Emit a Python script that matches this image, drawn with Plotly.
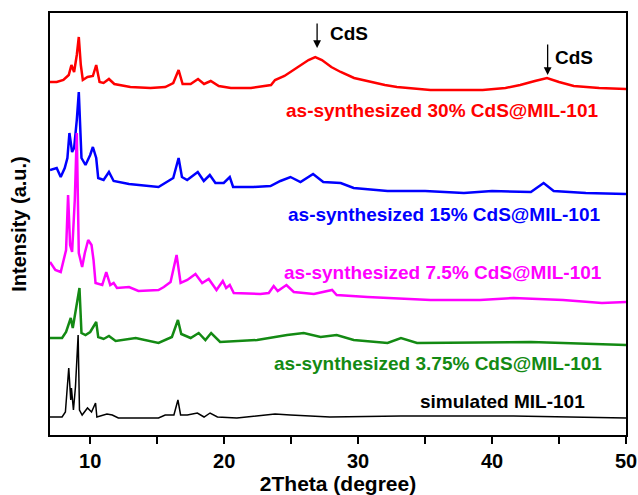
import plotly.graph_objects as go

# 2Theta (degree) and intensity (a.u.) for each pattern
red_x = [7.0, 7.5, 8.0, 8.4, 8.6, 8.8, 9.0, 9.15, 9.3, 9.45, 9.8, 10.2, 10.45, 10.7, 11.0, 11.4, 11.8,
         13.0, 14.5, 15.6, 16.2, 16.6, 16.9, 17.5, 18.05, 18.5, 19.0, 19.6, 20.5, 22.0, 23.5, 23.8,
         24.5, 25.5, 26.3, 26.8, 27.3, 28.0, 28.7, 29.7, 30.9, 32.0, 32.9, 35.4, 37.5, 39.3, 41.0,
         42.1, 43.2, 44.1, 45.0, 46.1, 48.0, 50.0]
red_y = [353, 353, 355, 360, 370, 363, 380, 398, 370, 355, 358, 359, 370, 353, 352, 356, 351,
         348, 347, 348, 352, 365, 351, 351, 356, 351, 354, 349, 347, 347, 350, 355,
         359, 368, 375, 378, 375, 368, 363, 357, 353, 350, 348, 345, 345, 345, 347,
         350, 354, 357, 353, 349, 347, 346]

blue_x = [7.0, 7.5, 7.8, 8.1, 8.3, 8.45, 8.65, 8.8, 9.0, 9.15, 9.35, 9.65, 10.0, 10.2, 10.45, 10.6,
          11.0, 11.4, 11.75, 12.9, 15.1, 16.2, 16.6, 16.85, 17.24, 18.03, 18.48, 18.93, 19.35,
          19.97, 20.42, 20.67, 22.2, 23.46, 24.2, 24.95, 25.7, 26.64, 27.4, 28.7, 29.67, 32.2,
          35.0, 37.9, 40.0, 42.9, 43.85, 44.6, 47.0, 50.0]
blue_y = [265, 267, 258, 267, 277, 302, 283, 287, 315, 343, 277, 270, 280, 288, 277, 257,
          255, 263, 254, 251, 248, 257, 277, 258, 255, 263, 254, 260, 252,
          252, 258, 248, 248, 249, 254, 258, 253, 261, 253, 252, 247, 244,
          244, 242, 244, 243, 252, 244, 242, 241]

magenta_x = [7.0, 7.4, 7.8, 8.0, 8.2, 8.35, 8.5, 8.65, 8.85, 9.0, 9.15, 9.4, 9.6, 9.85, 10.1, 10.25,
             10.4, 10.9, 11.2, 11.5, 11.75, 12.0, 12.9, 13.6, 15.1, 15.5, 16.0, 16.45, 16.75, 17.25,
             17.86, 18.36, 18.85, 19.43, 19.9, 20.15, 20.42, 20.72, 22.7, 23.33, 23.7, 24.0, 24.65,
             25.2, 26.7, 28.06, 28.4, 30.7, 32.2, 35.4, 39.1, 41.6, 45.3, 48.2, 50.0]
magenta_y = [173, 165, 163, 175, 185, 240, 190, 183, 235, 302, 182, 168, 182, 195, 190, 175,
             152, 150, 163, 150, 152, 147, 148, 144, 145, 148, 153, 180, 152, 155,
             161, 152, 156, 145, 154, 147, 150, 142, 141, 142, 149, 144, 150,
             143, 141, 145, 140, 138, 137, 135, 135, 137, 135, 132, 133]

green_x = [7.0, 7.9, 8.2, 8.55, 8.7, 9.0, 9.2, 9.35, 9.65, 10.0, 10.45, 10.6, 11.0, 11.4, 11.9, 13.4,
           15.1, 16.1, 16.55, 16.8, 17.5, 18.1, 18.6, 19.03, 19.7, 22.46, 24.7, 25.94, 27.2, 28.4,
           29.67, 32.2, 33.2, 34.4, 42.9, 45.3, 50.0]
green_y = [97, 97, 103, 117, 107, 130, 147, 102, 100, 103, 113, 98, 96, 99, 94, 97,
           92, 98, 115, 101, 97, 102, 95, 102, 93, 95, 100, 102, 98, 100,
           95, 92, 97, 92, 93, 92, 90]

black_x = [7.0, 7.9, 8.15, 8.4, 8.55, 8.6, 8.75, 8.9, 9.1, 9.2, 9.4, 9.8, 10.1, 10.4, 10.5, 11.25,
           11.65, 12.1, 15.1, 15.6, 16.25, 16.55, 16.75, 17.25, 18.0, 18.5, 18.95, 19.5, 20.95,
           23.8, 24.95, 27.9, 33.2, 41.6, 50.0]
black_y = [18, 18, 23, 67, 35, 47, 25, 48, 100, 25, 20, 27, 23, 32, 18, 21,
           20, 17, 17, 20, 20, 35, 20, 20, 22, 18, 22, 18, 17,
           21, 20, 18, 19, 19, 17]

series = [
    ("as-synthesized 30% CdS@MIL-101", red_x, red_y, "#ff0000", 2.5),
    ("as-synthesized 15% CdS@MIL-101", blue_x, blue_y, "#0000ff", 2.5),
    ("as-synthesized 7.5% CdS@MIL-101", magenta_x, magenta_y, "#ff00ff", 2.5),
    ("as-synthesized 3.75% CdS@MIL-101", green_x, green_y, "#138a13", 2.5),
    ("simulated MIL-101", black_x, black_y, "#000000", 1.5),
]

x_tickvals = [10, 15, 20, 25, 30, 35, 40, 45, 50]
x_ticktext = ["10", "", "20", "", "30", "", "40", "", "50"]

FONT = "Liberation Sans, Arial, sans-serif"

fig = go.Figure()
for name, xs, ys, color, w in series:
    fig.add_trace(go.Scatter(x=xs, y=ys, mode="lines", name=name,
                             line=dict(color=color, width=w)))

# label positions (2Theta, intensity)
label_pos = [(36.33, 325), (36.44, 221), (36.37, 163), (35.96, 72), (40.77, 34)]
annotations = []
for (name, xs, ys, color, w), (lx, ly) in zip(series, label_pos):
    annotations.append(dict(x=lx, y=ly, xref="x", yref="y", text=name, showarrow=False,
                            xanchor="center", yanchor="middle",
                            font=dict(family=FONT, size=19, color=color, weight="bold")))

# CdS markers
for ax_x, tip_y, tail_y, tx, ty in [(26.94, 387, 413, 27.76, 402), (44.15, 360, 392, 44.55, 378)]:
    annotations.append(dict(x=ax_x, y=tip_y, ax=ax_x, ay=tail_y, xref="x", yref="y",
                            axref="x", ayref="y", text="", showarrow=True,
                            arrowhead=2, arrowsize=1.2, arrowwidth=1.3, arrowcolor="black"))
    annotations.append(dict(x=tx, y=ty, xref="x", yref="y", text="CdS", showarrow=False,
                            xanchor="left", yanchor="middle",
                            font=dict(family=FONT, size=19, color="black", weight="bold")))

fig.update_layout(
    width=638, height=495,
    margin=dict(l=50, r=12, t=13, b=60),
    paper_bgcolor="white", plot_bgcolor="white",
    showlegend=False,
    annotations=annotations,
    font=dict(family=FONT, color="black"),
    xaxis=dict(range=[7, 50], tickvals=x_tickvals, ticktext=x_ticktext, automargin=False,
               ticks="outside", ticklen=7, tickwidth=2, tickcolor="black",
               showline=True, linecolor="black", linewidth=2, mirror=True,
               showgrid=False, zeroline=False,
               tickfont=dict(family=FONT, size=20, color="black", weight="bold"),
               title=dict(text="2Theta (degree)", standoff=4,
                          font=dict(family=FONT, size=21, color="black", weight="bold"))),
    yaxis=dict(range=[0, 422], showticklabels=False, ticks="", automargin=False,
               showline=True, linecolor="black", linewidth=2, mirror=True,
               showgrid=False, zeroline=False,
               title=dict(text="Intensity (a.u.)", standoff=16,
                          font=dict(family=FONT, size=20, color="black", weight="bold"))),
)

fig.write_html("out.html")
